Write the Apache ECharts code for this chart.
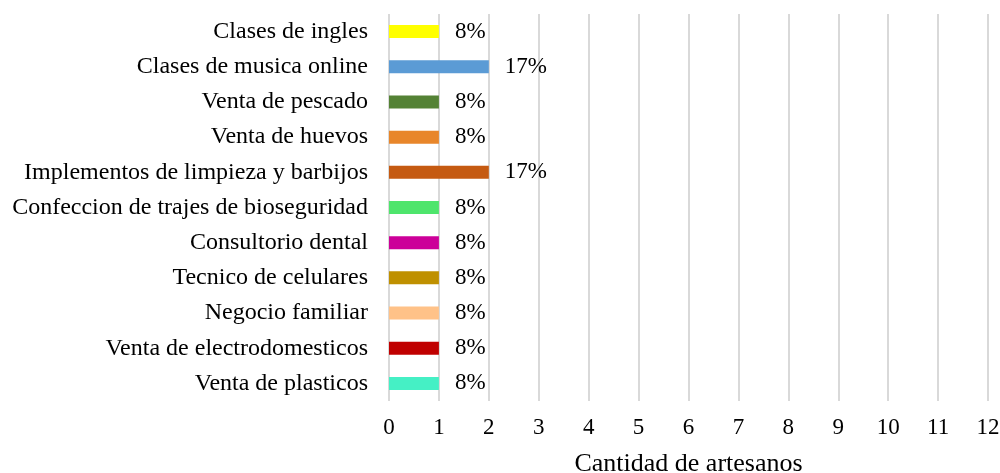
<!DOCTYPE html>
<html>
<head>
<meta charset="utf-8">
<script src="https://cdn.jsdelivr.net/npm/echarts@6/dist/echarts.min.js"></script>
<style>html,body{margin:0;padding:0;background:#fff}#c{width:1000px;height:473px}</style>
</head>
<body>
<div id="c"></div>
<script>
const categories = ["Clases de ingles","Clases de musica online","Venta de pescado","Venta de huevos","Implementos de limpieza y barbijos","Confeccion de trajes de bioseguridad","Consultorio dental","Tecnico de celulares","Negocio familiar","Venta de electrodomesticos","Venta de plasticos"];
const values = [1,2,1,1,2,1,1,1,1,1,1];
const percentLabels = ["8%","17%","8%","8%","17%","8%","8%","8%","8%","8%","8%"];
const colors = ["#FFFF00","#5B9BD5","#548235","#E8862A","#C55A11","#4EE56C","#CC0099","#BF9000","#FFC288","#C00000","#45F0C5"];
const xTicks = {min:0,max:12,interval:1};

const font = "'Liberation Serif','Times New Roman',serif";
const chart = echarts.init(document.getElementById('c'));
chart.setOption({
  animation:false,
  grid:{left:389,right:12,top:14,bottom:72,containLabel:false,outerBoundsMode:'none'},
  xAxis:{type:'value',min:xTicks.min,max:xTicks.max,interval:xTicks.interval,
    name:'Cantidad de artesanos',nameLocation:'middle',nameGap:50,
    nameTextStyle:{fontFamily:font,fontSize:26,color:'#000'},
    axisLine:{show:false},axisTick:{show:false},
    axisLabel:{fontFamily:font,fontSize:23,color:'#000',margin:15},
    splitLine:{show:true,lineStyle:{color:'#D9D9D9',width:2}}},
  yAxis:{type:'category',data:categories,inverse:true,
    axisLine:{show:false},axisTick:{show:false},
    axisLabel:{fontFamily:font,fontSize:24,color:'#000',margin:21}},
  series:[{type:'bar',barWidth:13,
    data:values.map((v,i)=>({value:v,itemStyle:{color:colors[i]},
      label:{show:true,position:'right',distance:16,formatter:percentLabels[i],fontFamily:font,fontSize:23,color:'#000'}}))}]
});
</script>
</body>
</html>
